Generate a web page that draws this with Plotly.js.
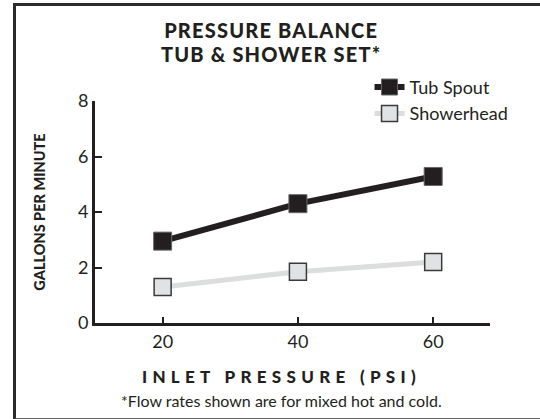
<!DOCTYPE html>
<html>
<head>
<meta charset="utf-8">
<script src="https://cdn.plot.ly/plotly-3.0.1.min.js"></script>
<style>
  html, body { margin: 0; padding: 0; background: #fff; }
  #wrap { position: relative; width: 540px; height: 419px; overflow: hidden; }
  #chart { position: absolute; left: 0; top: 0; width: 540px; height: 419px; }
  #frame { position: absolute; left: 13px; top: 3px; width: 600px; height: 412px;
           border-left: 3px solid #2b2b2b; border-top: 3px solid #2b2b2b; border-bottom: 2px solid #666;
           pointer-events: none; }
</style>
</head>
<body>
<div id="wrap">
  <div id="chart"></div>
  <div id="frame"></div>
</div>
<script>
const pressure = [20, 40, 60];
const tubSpout = [2.95, 4.3, 5.28];
const showerhead = [1.3, 1.85, 2.2];
const yTicks = [0, 2, 4, 6, 8];
const yTickText = ['0', '2', '4', '6', '8'];
const xTickText = ['20', '40', '60'];

const dark = '#231f20';
const fontFam = 'Lato, "Open Sans", sans-serif';

const traces = [
  {
    x: pressure, y: tubSpout, name: 'Tub Spout', type: 'scatter', mode: 'lines+markers',
    line: { color: dark, width: 6 },
    marker: { symbol: 'square', size: 18, color: dark, line: { color: '#666', width: 1 } },
    cliponaxis: false
  },
  {
    x: pressure, y: showerhead, name: 'Showerhead', type: 'scatter', mode: 'lines+markers',
    line: { color: '#dcdddd', width: 5 },
    marker: { symbol: 'square', size: 17, color: '#e1e2e3', line: { color: '#3a3a3a', width: 1.5 } },
    cliponaxis: false
  }
];

const layout = {
  width: 540, height: 419,
  margin: { l: 95, r: 50, t: 101, b: 96 },
  paper_bgcolor: '#fff', plot_bgcolor: '#fff',
  font: { family: fontFam, color: dark },
  title: {
    text: 'PRESSURE BALANCE<br>TUB & SHOWER SET*',
    font: { family: fontFam, size: 20, weight: 900, color: dark },
    x: 0.446, xanchor: 'center', xref: 'paper',
    y: 0.91, yanchor: 'middle'
  },
  showlegend: true,
  legend: {
    x: 0.695, xanchor: 'left', y: 1.145, yanchor: 'top',
    font: { family: fontFam, size: 18, color: dark },
    bgcolor: 'rgba(0,0,0,0)', borderwidth: 0,
    tracegroupgap: 0
  },
  xaxis: {
    range: [10, 68.4], tickvals: pressure, ticktext: xTickText,
    showgrid: false, zeroline: false, showline: true, linecolor: dark, linewidth: 3,
    ticks: 'inside', ticklen: 6, tickwidth: 2, tickcolor: dark,
    tickfont: { family: fontFam, size: 18, color: dark },
    title: { text: 'INLET PRESSURE (PSI)', font: { family: fontFam, size: 17, weight: 900, color: dark }, standoff: 21 },
    automargin: false, fixedrange: true
  },
  yaxis: {
    range: [0, 8], tickvals: yTicks, ticktext: yTickText,
    showgrid: false, zeroline: false, showline: true, linecolor: dark, linewidth: 3,
    ticks: 'inside', ticklen: 7, tickwidth: 2, tickcolor: dark,
    tickfont: { family: fontFam, size: 18, color: dark },
    title: { text: 'GALLONS PER MINUTE', font: { family: fontFam, size: 14.5, weight: 900, color: dark }, standoff: 29 },
    automargin: false, fixedrange: true
  },
  annotations: [
    {
      text: '*Flow rates shown are for mixed hot and cold.',
      xref: 'paper', yref: 'paper', x: 0.473, y: -0.347, xanchor: 'center', yanchor: 'middle',
      showarrow: false, font: { family: fontFam, size: 16, color: dark }
    }
  ]
};

Plotly.newPlot('chart', traces, layout, { displayModeBar: false, staticPlot: true }).then(function () {
  const t = document.querySelector('#chart .xtitle');
  if (t) {
    t.style.letterSpacing = '5.3px';
    const x0 = parseFloat(t.getAttribute('x'));
    t.setAttribute('x', x0 - 11);
  }
  const g = document.querySelector('#chart .gtitle');
  if (g) {
    g.style.letterSpacing = '1.2px';
    const spans = g.querySelectorAll('tspan.line');
    if (spans.length > 1) { spans[1].setAttribute('dy', '1.2em'); }
  }
});
</script>
</body>
</html>
